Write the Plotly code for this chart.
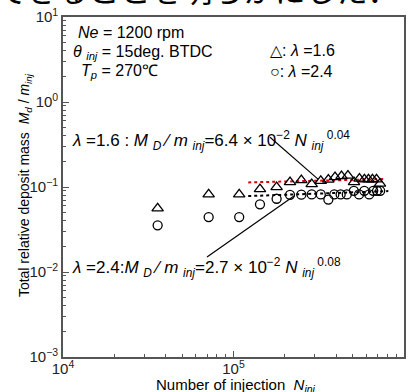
import plotly.graph_objects as go

# ---- data ----
n_tri = [35900, 71500, 108000, 143000, 179000, 214500, 250000, 287500, 325000, 360000,
         394000, 430000, 469000, 509000, 548000, 586000, 619000, 653000, 690000, 723000]
m_tri = [0.0561, 0.0819, 0.0819, 0.0945, 0.0997, 0.1142, 0.1205, 0.1081, 0.1183, 0.1222,
         0.1306, 0.1343, 0.1361, 0.1142, 0.1256, 0.1228, 0.1228, 0.1228, 0.1228, 0.1097]

n_cir = [35900, 71500, 108000, 143000, 179000, 214500, 250000, 287500, 325000, 360000,
         390000, 425000, 462000, 508000, 545000, 585000, 625000, 660000, 695000, 725000]
m_cir = [0.0354, 0.0443, 0.0443, 0.0625, 0.0727, 0.0810, 0.0813, 0.0818, 0.0818, 0.0711,
         0.0818, 0.0818, 0.0818, 0.0902, 0.0818, 0.0902, 0.0818, 0.0902, 0.0902, 0.0902]

fit16_n = [122000, 756000]
fit16_m = [0.1132, 0.1239]
fit24_n = [122000, 809000]
fit24_m = [0.0782, 0.0895]

x_tickvals = [1e4, 1e5, 1e6]
x_ticktext = ["10<sup>4</sup>", "10<sup>5</sup>", "10<sup>6</sup>"]
y_tickvals = [1e-3, 1e-2, 1e-1, 1e0, 1e1]
y_ticktext = ["10<sup>−3</sup>", "10<sup>−2</sup>", "10<sup>−1</sup>", "10<sup>0</sup>", "10<sup>1</sup>"]

FONT = "Liberation Sans, Arial, sans-serif"
AXC = "#555555"

fig = go.Figure()

fig.add_trace(go.Scatter(x=fit16_n, y=fit16_m, mode="lines",
                         line=dict(color="#e00000", width=2, dash="dot"), showlegend=False))
fig.add_trace(go.Scatter(x=fit24_n, y=fit24_m, mode="lines",
                         line=dict(color="#000000", width=2, dash="dot"), showlegend=False))
fig.add_trace(go.Scatter(x=n_tri, y=m_tri, mode="markers",
                         marker=dict(symbol="triangle-up-open", size=10, color="black",
                                     line=dict(width=1.3, color="black")),
                         showlegend=False))
fig.add_trace(go.Scatter(x=n_cir, y=m_cir, mode="markers",
                         marker=dict(symbol="circle-open", size=9, color="black",
                                     line=dict(width=1.3, color="black")),
                         showlegend=False))

L, R, T, B = 63, 404, 16.5, 357.3
W, H = 414, 392


def px(x):
    return (x - L) / (R - L)


def py(y):
    return (B - y) / (B - T)


minor_x = [k * 10 ** e for e in (4, 5) for k in range(2, 10)]
minor_y = [k * 10 ** e for e in (-3, -2, -1, 0) for k in range(2, 10)]

fig.update_xaxes(type="log", range=[4, 6], tickvals=x_tickvals, ticktext=x_ticktext,
                 ticks="inside", ticklen=6, tickwidth=1.2, tickcolor=AXC,
                 showline=True, linecolor=AXC, linewidth=1.6, mirror=True,
                 showgrid=False, zeroline=False, automargin=False, ticklabelstandoff=-3,
                 tickfont=dict(family=FONT, size=15, color="#222"),
                 minor=dict(tickvals=minor_x, ticks="inside", ticklen=3, tickcolor=AXC, tickwidth=1))
fig.update_yaxes(type="log", range=[-3, 1], tickvals=y_tickvals, ticktext=y_ticktext,
                 ticks="inside", ticklen=6, tickwidth=1.2, tickcolor=AXC,
                 showline=True, linecolor=AXC, linewidth=1.6, mirror=True,
                 showgrid=False, zeroline=False, automargin=False,
                 tickfont=dict(family=FONT, size=15, color="#222"),
                 minor=dict(tickvals=minor_y, ticks="inside", ticklen=3, tickcolor=AXC, tickwidth=1))

ann = []


def txt(x, y, s, size=15, xanchor="left", yanchor="middle", angle=0, family=FONT):
    ann.append(dict(xref="paper", yref="paper", x=px(x), y=py(y), text=s, showarrow=False,
                    xanchor=xanchor, yanchor=yanchor, textangle=angle,
                    font=dict(family=family, size=size, color="black")))


txt(76, 32, "<i>Ne</i> = 1200 rpm", size=16)
txt(71, 52, "<i>θ</i> <sub><i>inj</i></sub> = 15deg. BTDC", size=16)
txt(79, 71, "<i>T</i><sub><i>p</i></sub> = 270℃", size=16)
txt(268, 50, "△: <i>λ</i> =1.6", size=16)
txt(268, 71, "○: <i>λ</i> =2.4", size=16)
txt(70, 140, "<i>λ</i> =1.6 : <i>M</i> <sub><i>D</i></sub> ⁄ <i>m</i> <sub><i>inj</i></sub>=6.4 × 10<sup>−2</sup> <i>N</i> <sub><i>inj</i></sub><sup> 0.04</sup>", size=17)
txt(70, 268, "<i>λ</i> =2.4:<i>M</i> <sub><i>D</i></sub> ⁄ <i>m</i> <sub><i>inj</i></sub>=2.7 × 10<sup>−2</sup> <i>N</i> <sub><i>inj</i></sub><sup> 0.08</sup>", size=17)
txt(236, 386, "Number of injection  <i>N</i><sub><i>inj</i></sub>", size=15, xanchor="center")
txt(25, 185, "Total relative deposit mass  <i>M</i><sub><i>d</i></sub> / <i>m</i><sub><i>inj</i></sub>", size=14,
    xanchor="center", angle=-90)
txt(197, -12, "できることを明らかにした．", size=31, xanchor="center",
    family="Noto Sans CJK JP, sans-serif")

shapes = [
    dict(type="line", xref="paper", yref="paper", x0=px(270), y0=py(137), x1=px(318), y1=py(179),
         line=dict(color="black", width=1.2)),
    dict(type="line", xref="paper", yref="paper", x0=px(207), y0=py(257), x1=px(294), y1=py(196),
         line=dict(color="black", width=1.2)),
]

fig.update_layout(width=W, height=H, margin=dict(l=L, r=W - R, t=T, b=H - B),
                  paper_bgcolor="white", plot_bgcolor="white",
                  annotations=ann, shapes=shapes, showlegend=False)

fig.write_html("out.html", config={"displayModeBar": False},
               post_script="document.body.style.margin='0px';document.body.style.overflow='hidden';")
